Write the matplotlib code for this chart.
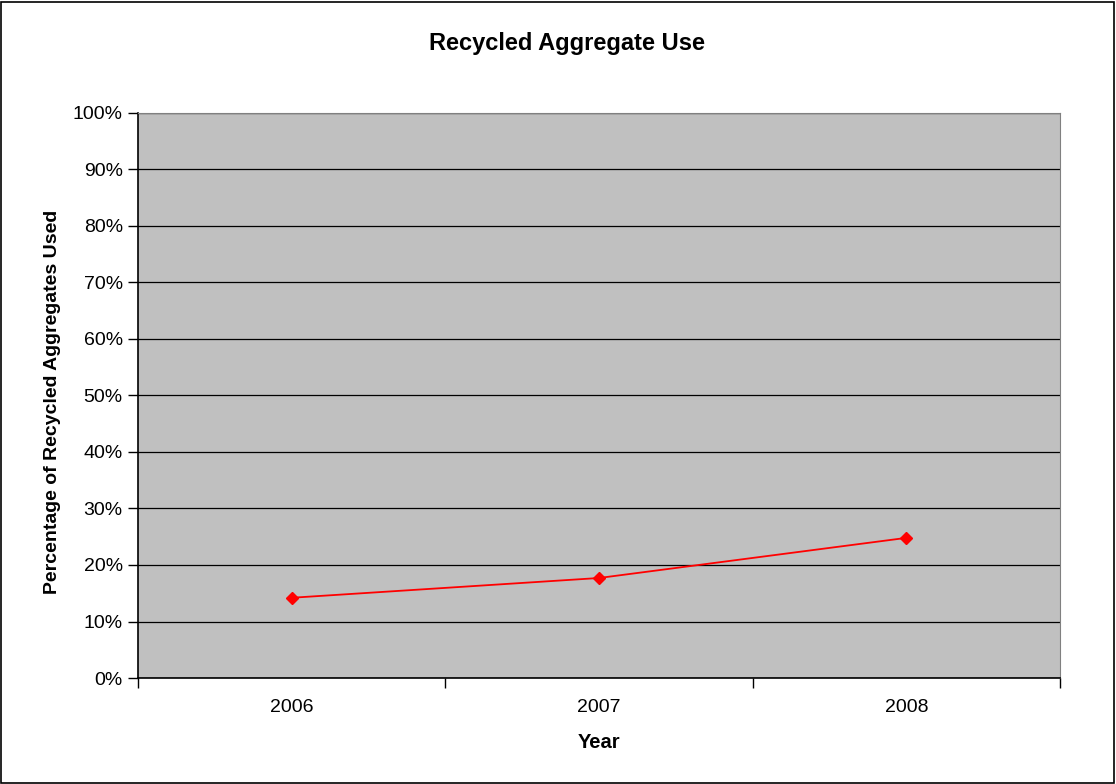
import matplotlib.pyplot as plt
import matplotlib.ticker as mticker
from matplotlib.patches import Rectangle

plt.rcParams['font.family'] = ['Liberation Sans', 'DejaVu Sans']

years = ['2006', '2007', '2008']
recycled_pct = [0.142, 0.177, 0.248]

fig = plt.figure(figsize=(11.16, 7.84), dpi=100)
ax = fig.add_axes([0.1237, 0.1352, 0.8261, 0.7207])

# black frame round the whole chart
fig.patches.append(Rectangle((0.001, 0.0015), 0.997, 0.996, transform=fig.transFigure,
                             fill=False, edgecolor='black', linewidth=1.2))

ax.set_facecolor('#c0c0c0')
x = range(len(years))
ax.plot(x, recycled_pct, color='#ff0000', linewidth=1.3, marker='D', markersize=6.5,
        markeredgecolor='#ff0000', zorder=3)

ax.set_xlim(-0.5, len(years) - 0.5)
ax.set_ylim(0, 1)
ax.yaxis.set_major_locator(mticker.MultipleLocator(0.1))
ax.yaxis.set_major_formatter(mticker.PercentFormatter(1.0, decimals=0))
ax.grid(axis='y', color='black', linewidth=0.9)
ax.set_axisbelow(True)

ax.set_xticks(list(x))
ax.set_xticklabels(years)
ax.set_xticks([i - 0.5 for i in range(len(years) + 1)], minor=True)
ax.tick_params(axis='x', which='major', length=0, pad=15, labelsize=14)
ax.tick_params(axis='x', which='minor', length=7, width=1, direction='out')
ax.tick_params(axis='y', length=7, width=1, direction='out', labelsize=14, pad=4)

for side in ['top', 'right']:
    ax.spines[side].set_color('#808080')
for side in ['left', 'bottom']:
    ax.spines[side].set_color('black')
    ax.spines[side].set_linewidth(1.2)

fig.text(0.5085, 0.944, 'Recycled Aggregate Use', fontsize=17, fontweight='bold',
         ha='center', va='center')
ax.set_xlabel('Year', fontsize=14.5, fontweight='bold', labelpad=12)
ax.set_ylabel('Percentage of Recycled Aggregates Used', fontsize=14, fontweight='bold')
ax.yaxis.set_label_coords(-0.084, 0.488)

fig.savefig('out.png', dpi=100)
